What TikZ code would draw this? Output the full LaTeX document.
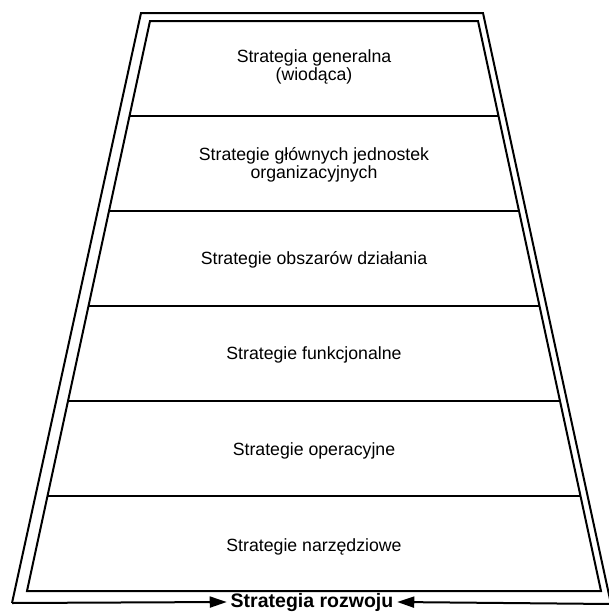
\documentclass[tikz,border=0pt]{standalone}
\usepackage{fontspec}
\setmainfont{Liberation Sans}
\usetikzlibrary{calc,arrows.meta}

\begin{document}
\begin{tikzpicture}[x=1pt,y=-1pt,
        line width=2pt,
        band/.style={align=center, font=\fontsize{17.7}{18.5}\selectfont},
        tip/.style={-{Triangle[length=17pt,width=11pt]}}]
        \useasboundingbox (0,0) rectangle (609,613);

        % Corners of the two frames
        \coordinate (ol) at (12,603);
        \coordinate (otl) at (141,13);
        \coordinate (otr) at (483,13);
        \coordinate (or) at (611,604);
        \coordinate (itl) at (150,21);
        \coordinate (itr) at (478,21);
        \coordinate (ibr) at (601,591);
        \coordinate (ibl) at (27,591);

        % Draw the frames
        \draw (ol) -- (otl) -- (otr) -- (or);
        \draw (itl) -- (itr) -- (ibr) -- (ibl) -- cycle;
        \foreach \k in {1,...,5}
                \draw ($(itl)!\k/6!(ibl)$) -- ($(itr)!\k/6!(ibr)$);

        % Labels of the levels
        \node[band] (gen) at (314,67) {Strategia generalna\\(wiodąca)};
        \node[band] (glo) at (314,165) {Strategie głównych jednostek\\organizacyjnych};
        \node[band] (obs) at (314,260) {Strategie obszarów działania};
        \node[band] (fun) at (314,355) {Strategie funkcjonalne};
        \node[band] (ope) at (314,451) {Strategie operacyjne};
        \node[band] (nar) at (314,547) {Strategie narzędziowe};

        % Bottom label with arrows
        \node[band, font=\fontsize{19.5}{20}\selectfont\bfseries, inner sep=3pt] (roz) at (312,602) {Strategia rozwoju};
        \draw[tip] (ol) -- (roz.west);
        \draw[tip] (or) -- (roz.east);
\end{tikzpicture}
\end{document}
